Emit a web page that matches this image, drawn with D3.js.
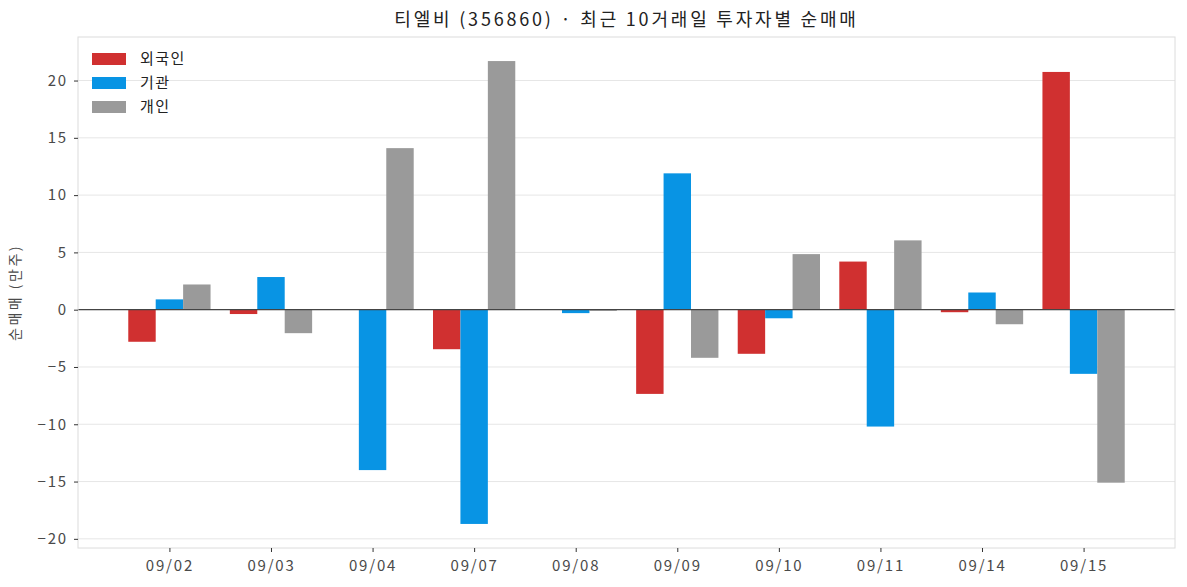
<!DOCTYPE html>
<meta charset="utf-8">
<head>
  <title>티엘비 투자자별 순매매</title>
  <script src="https://cdn.jsdelivr.net/npm/d3@7"></script>
  <style>
    body { margin: 0; background: #fff; }
    text { font-family: "Noto Sans CJK KR", "Noto Sans", sans-serif; }
    .tick text { fill: #4a4a4a; font-size: 15px; letter-spacing: 1.8px; }
    .tick line { stroke: #333; }
  </style>
</head>
<body>
<div id="chart"></div>
<script>
  // data (만주)
  var dates = ["09/02", "09/03", "09/04", "09/07", "09/08", "09/09", "09/10", "09/11", "09/14", "09/15"];
  var foreign = [-2.8, -0.38, 0, -3.45, 0, -7.35, -3.85, 4.2, -0.22, 20.75];
  var inst = [0.9, 2.85, -14.0, -18.7, -0.3, 11.9, -0.75, -10.2, 1.5, -5.6];
  var indiv = [2.2, -2.05, 14.1, 21.7, -0.1, -4.2, 4.85, 6.05, -1.27, -15.1];
  var seriesNames = ["외국인", "기관", "개인"];
  var yTicks = [-20, -15, -10, -5, 0, 5, 10, 15, 20];

  var colors = ["#d03030", "#0894e4", "#9a9a9a"];
  var series = [foreign, inst, indiv];

  var W = 1187, H = 587;
  var margin = {top: 37, right: 12, bottom: 39, left: 78};
  var width = W - margin.left - margin.right;
  var height = H - margin.top - margin.bottom;

  var svg = d3.select("#chart").append("svg")
      .attr("width", W).attr("height", H);
  var g = svg.append("g")
      .attr("transform", "translate(" + margin.left + "," + margin.top + ")");

  var x = d3.scaleLinear().domain([-0.9, dates.length - 0.1]).range([0, width]);
  var y = d3.scaleLinear().domain([-20.8, 23.8]).range([height, 0]);
  var barW = 0.27;

  // grid
  g.append("g").selectAll("line").data(yTicks).enter().append("line")
      .attr("x1", 0).attr("x2", width)
      .attr("y1", function(d){ return y(d); })
      .attr("y2", function(d){ return y(d); })
      .attr("stroke", "#e6e6e6").attr("stroke-width", 1);

  // bars
  series.forEach(function(vals, s){
    g.append("g").selectAll("rect").data(vals).enter().append("rect")
        .attr("x", function(d, i){ return x(i + (s - 1) * barW - barW / 2); })
        .attr("width", x(barW) - x(0))
        .attr("y", function(d){ return y(Math.max(0, d)); })
        .attr("height", function(d){ return Math.abs(y(d) - y(0)); })
        .attr("fill", colors[s]);
  });

  // zero line
  g.append("line")
      .attr("x1", 0).attr("x2", width)
      .attr("y1", y(0)).attr("y2", y(0))
      .attr("stroke", "#444").attr("stroke-width", 1.2);

  // frame
  g.append("rect")
      .attr("width", width).attr("height", height)
      .attr("fill", "none").attr("stroke", "#dcdcdc").attr("stroke-width", 1);

  // axes
  var yAxis = g.append("g")
      .call(d3.axisLeft(y).tickValues(yTicks).tickSize(4).tickPadding(6).tickFormat(d3.format("d")));
  yAxis.select(".domain").remove();

  var xAxis = g.append("g")
      .attr("transform", "translate(0," + height + ")")
      .call(d3.axisBottom(x).tickValues(d3.range(dates.length)).tickSize(4).tickPadding(8)
          .tickFormat(function(i){ return dates[i]; }));
  xAxis.select(".domain").remove();

  // y label
  svg.append("text")
      .attr("transform", "translate(20," + (margin.top + height / 2) + ") rotate(-90)")
      .attr("text-anchor", "middle")
      .attr("fill", "#4a4a4a")
      .style("font-size", "14px")
      .style("letter-spacing", "2.5px")
      .text("순매매 (만주)");

  // title
  svg.append("text")
      .attr("x", margin.left + width / 2)
      .attr("y", 26)
      .attr("text-anchor", "middle")
      .attr("fill", "#222")
      .style("font-size", "18px")
      .style("letter-spacing", "2.8px")
      .text("티엘비 (356860) · 최근 10거래일 투자자별 순매매");

  // legend
  var legend = g.append("g").attr("transform", "translate(14,16)");
  seriesNames.forEach(function(name, i){
    var row = legend.append("g").attr("transform", "translate(0," + (i * 24) + ")");
    row.append("rect").attr("width", 34).attr("height", 12).attr("fill", colors[i]);
    row.append("text").attr("x", 48).attr("y", 6).attr("dy", "0.35em")
        .attr("fill", "#222").style("font-size", "15px").style("letter-spacing", "1.5px").text(name);
  });
</script>
</body>
</html>
